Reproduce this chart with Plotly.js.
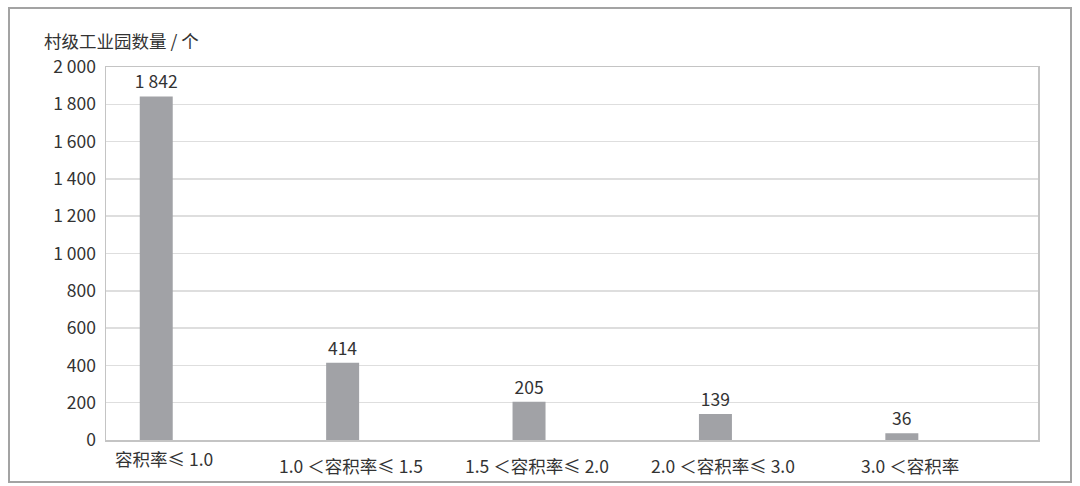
<!DOCTYPE html>
<html>
<head>
<meta charset="utf-8">
<script src="https://cdn.plot.ly/plotly-3.0.1.min.js"></script>
<style>
  body { margin: 0; background: #fff; }
  #wrap { position: relative; width: 1080px; height: 486px; }
  #chart { position: absolute; left: 0; top: 0; width: 1080px; height: 486px; }
  #frame { position: absolute; left: 8px; top: 7px; width: 1060px; height: 472px;
           border: 2px solid #a3a3a3; pointer-events: none; }
</style>
</head>
<body>
<div id="wrap">
  <div id="chart"></div>
  <div id="frame"></div>
</div>
<script>
// categories and values
var categories = ["容积率≤ 1.0", "1.0 ＜容积率≤ 1.5", "1.5 ＜容积率≤ 2.0", "2.0 ＜容积率≤ 3.0", "3.0 ＜容积率"];
var parkCounts = [1842, 414, 205, 139, 36];
var yTicks = [0, 200, 400, 600, 800, 1000, 1200, 1400, 1600, 1800, 2000];

var font = "'Noto Sans CJK SC', 'Noto Sans', sans-serif";
var textColor = "#333333";

var trace = {
  type: "bar",
  x: categories,
  y: parkCounts,
  width: 0.177,
  offset: -0.319,
  marker: { color: "#a1a2a6" },
  text: parkCounts,
  texttemplate: "%{y:,d}",
  textposition: "outside",
  constraintext: "none",
  cliponaxis: false,
  textfont: { family: font, size: 17.5, color: textColor },
  hoverinfo: "skip"
};

// category labels as annotations (first one sits higher in the reference)
var labelNotes = categories.map(function (c, i) {
  return {
    x: c, xref: "x", y: 0, yref: "paper",
    xanchor: "center", yanchor: "top",
    xshift: -35, yshift: i === 0 ? -4 : -11,
    text: c, showarrow: false,
    font: { family: font, size: 17.5, color: textColor }
  };
});

labelNotes.push({
  x: -0.069, xref: "paper", y: 1.072, yref: "paper",
  xanchor: "left", yanchor: "middle",
  text: "村级工业园数量 / 个", showarrow: false,
  font: { family: font, size: 17.5, color: textColor }
});

var layout = {
  width: 1080, height: 486,
  margin: { l: 106, r: 42, t: 67, b: 46 },
  paper_bgcolor: "rgba(0,0,0,0)",
  plot_bgcolor: "#ffffff",
  separators: ". ",
  showlegend: false,
  font: { family: font, size: 17.5, color: textColor },
  xaxis: {
    type: "category",
    showticklabels: false,
    ticks: "",
    showgrid: false,
    showline: true, mirror: true,
    linecolor: "#c4c4c4", linewidth: 1.5
  },
  yaxis: {
    range: [0, 2000],
    tickvals: yTicks,
    tickformat: ",d",
    ticks: "",
    ticklabelstandoff: 5,
    showgrid: true, gridcolor: "#dedede", gridwidth: 1.5,
    zeroline: false,
    showline: true, mirror: true,
    linecolor: "#c4c4c4", linewidth: 1.5,
    tickfont: { family: font, size: 17.5, color: textColor }
  },
  annotations: labelNotes
};

Plotly.newPlot("chart", [trace], layout, { staticPlot: true });
</script>
</body>
</html>
